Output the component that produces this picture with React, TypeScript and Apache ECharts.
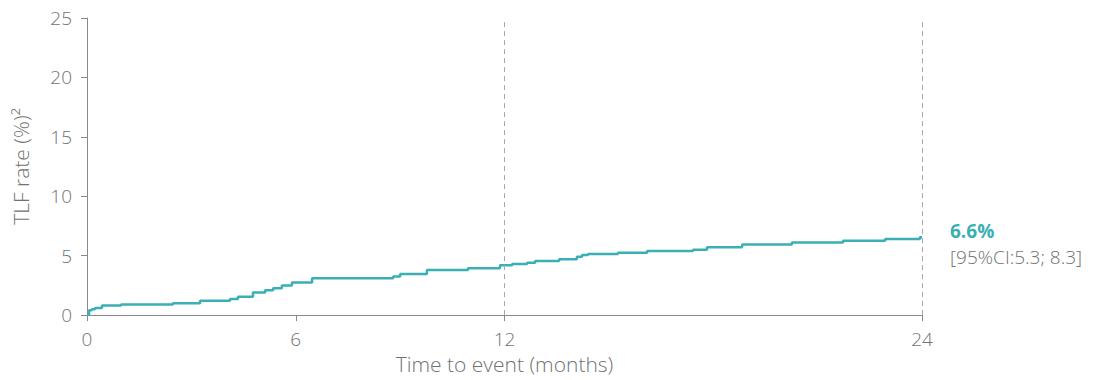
import React, { useEffect, useRef } from "react";
import * as echarts from "echarts";

const months: number[] = [0, 0.06, 0.14, 0.23, 0.43, 0.98, 2.47, 3.25, 4.11, 4.34, 4.77, 5.12, 5.35, 5.6, 5.89, 6.47, 8.8, 9.0, 9.77, 10.95, 11.87, 12.22, 12.65, 12.88, 13.57, 14.08, 14.23, 14.4, 15.26, 16.1, 17.42, 17.82, 18.83, 20.26, 21.73, 22.94, 23.94, 24];
const tlfRate: number[] = [0, 0.4, 0.5, 0.6, 0.8, 0.9, 1.0, 1.2, 1.35, 1.55, 1.9, 2.1, 2.25, 2.5, 2.75, 3.1, 3.25, 3.45, 3.8, 3.95, 4.2, 4.3, 4.4, 4.55, 4.7, 4.9, 5.05, 5.15, 5.25, 5.4, 5.5, 5.7, 5.95, 6.1, 6.25, 6.4, 6.55, 6.6];
const xTicks: number[] = [0, 6, 12, 24];
const refLines: number[] = [12, 24];
const endValue = "6.6%";
const endCI = "[95%CI:5.3; 8.3]";

const TEAL = "#3AAFB5";
const GREY = "#717274";
const FONT = "'Open Sans'";

export default function App() {
  const ref = useRef<HTMLDivElement>(null);
  useEffect(() => {
    if (!ref.current) return;
    const chart = echarts.init(ref.current, undefined, { renderer: "svg" });
    chart.setOption({
      animation: false,
      grid: { left: 87, right: 177, top: 18, bottom: 56 },
      xAxis: {
        type: "value",
        min: 0,
        max: 24,
        interval: 6,
        name: "Time to event (months)",
        nameLocation: "middle",
        nameGap: 37,
        nameTextStyle: { color: GREY, fontSize: 21, fontFamily: FONT, fontWeight: 300, lineHeight: 22 },
        axisLine: { show: true, lineStyle: { color: "#8a8a8a", width: 1 } },
        axisTick: { show: true, customValues: xTicks, length: 6, lineStyle: { color: "#8a8a8a" } },
        axisLabel: { customValues: xTicks, color: GREY, fontSize: 19, fontFamily: FONT, fontWeight: 300, margin: 14 },
        splitLine: { show: false },
      },
      yAxis: {
        type: "value",
        min: 0,
        max: 25,
        interval: 5,
        name: "TLF rate (%)²",
        nameLocation: "middle",
        nameGap: 56,
        nameTextStyle: { color: GREY, fontSize: 21, fontFamily: FONT, fontWeight: 300 },
        axisLine: { show: true, lineStyle: { color: "#8a8a8a", width: 1 } },
        axisTick: { show: true, length: 6, lineStyle: { color: "#8a8a8a" } },
        axisLabel: { color: GREY, fontSize: 19, fontFamily: FONT, fontWeight: 300, margin: 15 },
        splitLine: { show: false },
      },
      series: [
        {
          type: "line",
          step: "end",
          data: months.map((m, i) => [m, tlfRate[i]]),
          symbol: "none",
          lineStyle: { color: TEAL, width: 2.5 },
          markLine: {
            silent: true,
            symbol: "none",
            label: { show: false },
            lineStyle: { color: "#a8a8a8", type: [5, 4], width: 1 },
            data: refLines.map((v) => ({ xAxis: v })),
          },
        },
      ],
      graphic: [
        {
          type: "text",
          left: 950,
          top: 221,
          style: {
            text: `{a|${endValue}}\n{b|${endCI}}`,
            fontFamily: FONT,
            rich: {
              a: { fill: TEAL, fontSize: 19, lineHeight: 26, fontWeight: "bold", fontFamily: FONT },
              b: { fill: GREY, fontSize: 19, lineHeight: 26, fontWeight: 300, fontFamily: FONT },
            },
          },
        },
      ],
    });
    return () => chart.dispose();
  }, []);
  return <div ref={ref} style={{ width: 1099, height: 380, position: "absolute", left: 0, top: 0 }} />;
}
